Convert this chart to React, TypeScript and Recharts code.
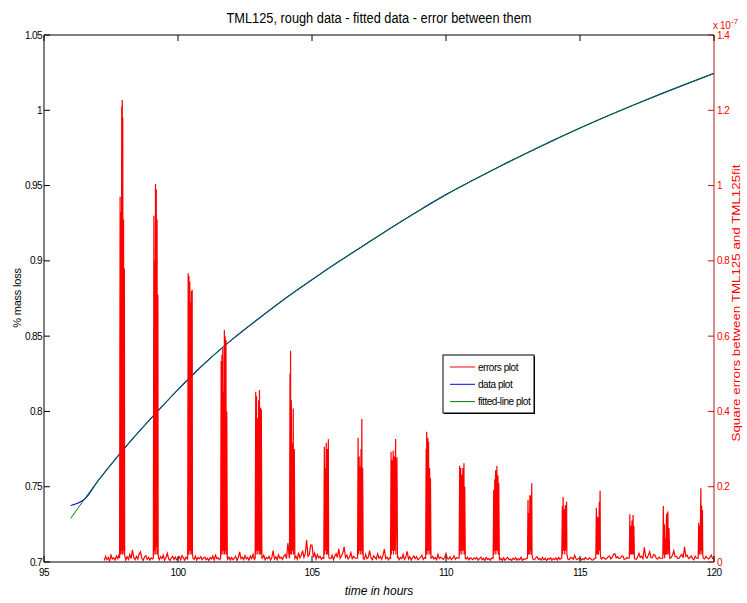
import { ComposedChart, Line, XAxis, YAxis, ReferenceLine } from 'recharts';

// time axis for the measured and fitted mass-loss curves (hours)
const fitHours = [96, 96.5, 97, 98, 99, 100, 101, 102, 103, 104, 105, 106, 107, 108, 109, 110, 111, 112, 113, 114, 115, 116, 117, 118, 119, 120];
const fitLoss = [0.729, 0.7415, 0.7535, 0.7755, 0.7955, 0.8145, 0.832, 0.8475, 0.8615, 0.875, 0.8875, 0.8995, 0.911, 0.9225, 0.9335, 0.944, 0.9535, 0.9627, 0.9715, 0.98, 0.9882, 0.996, 1.0035, 1.0107, 1.0177, 1.0245];

const dataHours = [96, 96.25, 96.5, 97, 98, 99, 100, 101, 102, 103, 104, 105, 106, 107, 108, 109, 110, 111, 112, 113, 114, 115, 116, 117, 118, 119, 120];
const dataLoss = [0.7375, 0.739, 0.7415, 0.7535, 0.7755, 0.7955, 0.8145, 0.832, 0.8475, 0.8615, 0.875, 0.8875, 0.8995, 0.911, 0.9225, 0.9335, 0.944, 0.9535, 0.9627, 0.9715, 0.98, 0.9882, 0.996, 1.0035, 1.0107, 1.0177, 1.0245];

// squared error floor, x 1e-7, sampled every 0.05 h from 97.25 h (one row per hour)
const floorStart = 97.25;
const floorStep = 0.05;
const errFloor = [
  0.004, 0.015, 0.006, 0.012, 0.003, 0.018, 0.008, 0.011, 0.005, 0.016, 0.009, 0.02, 0.01, 0.01, 0.01,
  0.01, 0.005, 0.014, 0.007, 0.02, 0.009, 0.032, 0.012, 0.006, 0.015, 0.008, 0.021, 0.027, 0.01, 0.004, 0.013, 0.017, 0.007, 0.012, 0.005,
  0.011, 0.008, 0.01, 0.01, 0.01, 0.01, 0.006, 0.014, 0.009, 0.018, 0.005, 0.012, 0.023, 0.008, 0.004, 0.011, 0.015, 0.007, 0.013, 0.006,
  0.009, 0.014, 0.006, 0.017, 0.011, 0.005, 0.013, 0.008, 0.01, 0.01, 0.01, 0.01, 0.007, 0.016, 0.005, 0.012, 0.009, 0.014, 0.006, 0.011,
  0.013, 0.006, 0.01, 0.004, 0.012, 0.008, 0.016, 0.005, 0.018, 0.009, 0.011, 0.006, 0.01, 0.01, 0.01, 0.01, 0.01, 0.007, 0.013, 0.005,
  0.012, 0.006, 0.01, 0.015, 0.004, 0.011, 0.027, 0.009, 0.013, 0.006, 0.017, 0.008, 0.012, 0.005, 0.016, 0.009, 0.02, 0.007, 0.01, 0.01,
  0.01, 0.01, 0.01, 0.01, 0.018, 0.006, 0.012, 0.009, 0.015, 0.005, 0.011, 0.03, 0.008, 0.014, 0.006, 0.019, 0.01, 0.013, 0.007, 0.016,
  0.02, 0.009, 0.05, 0.012, 0.01, 0.01, 0.01, 0.01, 0.015, 0.007, 0.025, 0.011, 0.018, 0.03, 0.012, 0.022, 0.058, 0.015, 0.02, 0.045,
  0.045, 0.013, 0.024, 0.008, 0.02, 0.011, 0.015, 0.007, 0.012, 0.01, 0.01, 0.01, 0.01, 0.01, 0.009, 0.018, 0.006, 0.016, 0.022, 0.012,
  0.035, 0.01, 0.016, 0.024, 0.04, 0.012, 0.018, 0.008, 0.013, 0.025, 0.009, 0.015, 0.011, 0.01, 0.01, 0.01, 0.01, 0.01, 0.014, 0.007,
  0.02, 0.009, 0.013, 0.03, 0.011, 0.006, 0.016, 0.012, 0.008, 0.022, 0.01, 0.015, 0.007, 0.018, 0.034, 0.009, 0.013, 0.006, 0.011, 0.008,
  0.01, 0.01, 0.01, 0.01, 0.015, 0.006, 0.012, 0.009, 0.02, 0.007, 0.013, 0.028, 0.008, 0.014, 0.005, 0.011, 0.016, 0.009, 0.014, 0.006,
  0.009, 0.013, 0.018, 0.007, 0.012, 0.005, 0.01, 0.01, 0.01, 0.01, 0.015, 0.008, 0.012, 0.006, 0.02, 0.009, 0.013, 0.01, 0.007, 0.012,
  0.023, 0.009, 0.008, 0.014, 0.006, 0.01, 0.016, 0.007, 0.012, 0.01, 0.01, 0.01, 0.01, 0.01, 0.01, 0.008, 0.013, 0.006, 0.011, 0.009,
  0.006, 0.011, 0.008, 0.012, 0.005, 0.009, 0.013, 0.006, 0.01, 0.004, 0.012, 0.007, 0.009, 0.005, 0.011, 0.01, 0.01, 0.01, 0.01, 0.01,
  0.006, 0.01, 0.004, 0.011, 0.005, 0.009, 0.012, 0.006, 0.008, 0.004, 0.01, 0.007, 0.011, 0.005, 0.009, 0.006, 0.013, 0.004, 0.008, 0.007,
  0.01, 0.01, 0.01, 0.01, 0.01, 0.008, 0.006, 0.011, 0.014, 0.007, 0.009, 0.005, 0.012, 0.006, 0.01, 0.004, 0.009, 0.007, 0.011, 0.005,
  0.009, 0.006, 0.011, 0.005, 0.012, 0.007, 0.01, 0.01, 0.01, 0.01, 0.01, 0.008, 0.006, 0.012, 0.011, 0.007, 0.018, 0.009, 0.006, 0.01,
  0.01, 0.005, 0.009, 0.006, 0.012, 0.008, 0.007, 0.011, 0.009, 0.005, 0.006, 0.01, 0.01, 0.01, 0.01, 0.01, 0.008, 0.012, 0.011, 0.007,
  0.009, 0.014, 0.016, 0.008, 0.012, 0.02, 0.022, 0.011, 0.014, 0.009, 0.01, 0.015, 0.016, 0.007, 0.008, 0.012, 0.01, 0.01, 0.01, 0.01,
  0.01, 0.008, 0.007, 0.013, 0.023, 0.012, 0.015, 0.009, 0.039, 0.014, 0.01, 0.018, 0.027, 0.011, 0.012, 0.02, 0.018, 0.009, 0.008, 0.013,
  0.01, 0.01, 0.01, 0.01, 0.01, 0.01, 0.01, 0.012, 0.012, 0.018, 0.03, 0.014, 0.015, 0.009, 0.01, 0.016, 0.02, 0.011, 0.04, 0.015,
  0.018, 0.009, 0.012, 0.016, 0.009, 0.006, 0.015, 0.01, 0.01, 0.01, 0.01, 0.01, 0.01, 0.008, 0.015, 0.011, 0.008, 0.012, 0.018, 0.009,
  0.01,
];

// error bursts, [hour, error x 1e-7]
const errSpikes: number[][][] = [
  [[97.82, 0.01], [97.84, 0.97], [97.85, 0.02], [97.87, 0.93], [97.88, 0.03], [97.9, 1.21], [97.91, 0.02], [97.92, 1.227], [97.93, 0.04], [97.94, 1.18], [97.95, 0.02], [97.97, 0.91], [97.98, 0.03], [98.0, 0.78], [98.01, 0.02], [98.03, 0.01]],
  [[99.08, 0.01], [99.1, 0.92], [99.11, 0.02], [99.13, 0.8], [99.14, 0.03], [99.16, 1.004], [99.17, 0.02], [99.19, 0.99], [99.2, 0.04], [99.22, 0.91], [99.23, 0.02], [99.25, 0.71], [99.26, 0.02], [99.28, 0.01]],
  [[100.36, 0.01], [100.38, 0.767], [100.39, 0.02], [100.41, 0.76], [100.42, 0.03], [100.44, 0.745], [100.45, 0.02], [100.47, 0.69], [100.48, 0.03], [100.5, 0.72], [100.51, 0.02], [100.53, 0.723], [100.54, 0.02], [100.56, 0.01]],
  [[101.59, 0.01], [101.61, 0.534], [101.62, 0.02], [101.64, 0.55], [101.65, 0.03], [101.67, 0.568], [101.68, 0.02], [101.7, 0.452], [101.71, 0.03], [101.73, 0.616], [101.74, 0.02], [101.76, 0.6], [101.77, 0.03], [101.79, 0.59], [101.8, 0.02], [101.82, 0.4], [101.84, 0.01]],
  [[102.88, 0.01], [102.9, 0.452], [102.91, 0.02], [102.93, 0.44], [102.94, 0.03], [102.97, 0.382], [102.98, 0.02], [103.01, 0.43], [103.02, 0.03], [103.04, 0.457], [103.05, 0.02], [103.08, 0.41], [103.09, 0.02], [103.11, 0.406], [103.13, 0.01]],
  [[104.16, 0.01], [104.18, 0.5], [104.19, 0.02], [104.2, 0.561], [104.21, 0.03], [104.23, 0.43], [104.24, 0.02], [104.27, 0.316], [104.28, 0.03], [104.3, 0.408], [104.31, 0.02], [104.34, 0.3], [104.36, 0.01]],
  [[105.44, 0.01], [105.46, 0.306], [105.47, 0.02], [105.49, 0.25], [105.5, 0.03], [105.53, 0.317], [105.54, 0.02], [105.57, 0.3], [105.58, 0.02], [105.61, 0.326], [105.62, 0.02], [105.64, 0.01]],
  [[106.7, 0.01], [106.72, 0.33], [106.73, 0.02], [106.76, 0.28], [106.77, 0.03], [106.79, 0.253], [106.8, 0.02], [106.83, 0.3], [106.84, 0.03], [106.86, 0.38], [106.87, 0.02], [106.89, 0.25], [106.91, 0.01]],
  [[107.93, 0.01], [107.95, 0.293], [107.96, 0.02], [107.99, 0.27], [108.0, 0.03], [108.03, 0.296], [108.04, 0.02], [108.07, 0.28], [108.08, 0.03], [108.12, 0.327], [108.13, 0.02], [108.17, 0.278], [108.19, 0.01]],
  [[109.24, 0.01], [109.26, 0.3], [109.27, 0.02], [109.28, 0.346], [109.29, 0.03], [109.32, 0.33], [109.33, 0.02], [109.35, 0.32], [109.36, 0.03], [109.39, 0.25], [109.4, 0.02], [109.42, 0.223], [109.44, 0.01]],
  [[110.49, 0.01], [110.51, 0.256], [110.52, 0.02], [110.55, 0.25], [110.56, 0.03], [110.58, 0.232], [110.59, 0.02], [110.63, 0.25], [110.64, 0.03], [110.67, 0.262], [110.68, 0.02], [110.7, 0.2], [110.72, 0.01]],
  [[111.76, 0.01], [111.78, 0.191], [111.79, 0.02], [111.82, 0.22], [111.83, 0.03], [111.85, 0.244], [111.86, 0.02], [111.9, 0.255], [111.91, 0.03], [111.94, 0.23], [111.95, 0.02], [111.97, 0.209], [111.99, 0.01]],
  [[113.04, 0.01], [113.06, 0.165], [113.07, 0.02], [113.1, 0.13], [113.11, 0.02], [113.13, 0.178], [113.14, 0.03], [113.16, 0.175], [113.17, 0.02], [113.2, 0.209], [113.21, 0.02], [113.23, 0.01]],
  [[114.32, 0.01], [114.34, 0.149], [114.35, 0.02], [114.37, 0.173], [114.38, 0.03], [114.42, 0.14], [114.43, 0.02], [114.45, 0.151], [114.46, 0.03], [114.5, 0.16], [114.51, 0.02], [114.54, 0.01]],
  [[115.59, 0.01], [115.61, 0.144], [115.62, 0.02], [115.65, 0.12], [115.66, 0.02], [115.68, 0.118], [115.69, 0.02], [115.72, 0.16], [115.73, 0.03], [115.75, 0.189], [115.76, 0.02], [115.78, 0.01]],
  [[116.84, 0.01], [116.86, 0.127], [116.87, 0.02], [116.9, 0.096], [116.91, 0.02], [116.94, 0.11], [116.95, 0.02], [116.98, 0.125], [116.99, 0.02], [117.01, 0.096], [117.03, 0.01]],
  [[118.09, 0.01], [118.11, 0.149], [118.12, 0.02], [118.15, 0.1], [118.16, 0.01], [118.18, 0.063], [118.2, 0.02], [118.23, 0.129], [118.24, 0.02], [118.28, 0.134], [118.29, 0.02], [118.32, 0.09], [118.35, 0.01]],
  [[119.41, 0.01], [119.43, 0.104], [119.44, 0.02], [119.47, 0.096], [119.48, 0.02], [119.51, 0.196], [119.52, 0.03], [119.54, 0.15], [119.55, 0.02], [119.57, 0.138], [119.58, 0.02], [119.6, 0.01]],
];

const xTicks = [95, 100, 105, 110, 115, 120];
const lossTicks = [0.7, 0.75, 0.8, 0.85, 0.9, 0.95, 1, 1.05];
const errTicks = [0, 0.2, 0.4, 0.6, 0.8, 1, 1.2, 1.4];
const legendNames = ['errors plot', 'data plot', 'fitted-line plot'];

const W = 747;
const H = 603;
const L = 44;
const R = 714;
const T = 35;
const B = 562;
const FONT = "'Liberation Sans', Arial, sans-serif";
const RED = '#ff0000';
const AXIS_RED = '#b01a1a';
const GREEN = '#008000';
const BLUE = '#0000ff';
const TICK = 6;

const fitRows = fitHours.map((t, i) => ({ t, v: fitLoss[i] }));
const dataRows = dataHours.map((t, i) => ({ t, v: dataLoss[i] }));

const inSpike = (t: number) => errSpikes.some((s) => t >= s[0][0] && t <= s[s.length - 1][0]);
const errRows = errFloor
  .map((v, i) => ({ t: +(floorStart + i * floorStep).toFixed(2), v }))
  .filter((p) => !inSpike(p.t))
  .concat(errSpikes.flat().map(([t, v]) => ({ t, v })))
  .sort((a, b) => a.t - b.t);

const fmt = (v: number) => String(+v.toFixed(2));

const tickText = { fontFamily: FONT, fontSize: 10, letterSpacing: '-0.6px' } as const;

function XTick({ x, payload }: any) {
  return (
    <g>
      <line x1={x} x2={x} y1={B} y2={B - TICK} stroke="#000" />
      <line x1={x} x2={x} y1={T} y2={T + TICK} stroke="#000" />
      <text x={x} y={B + 14} textAnchor="middle" fill="#000" style={tickText}>
        {payload.value}
      </text>
    </g>
  );
}

function LossTick({ y, payload }: any) {
  return (
    <g>
      <line x1={L} x2={L + TICK} y1={y} y2={y} stroke="#000" />
      <text x={L - 2} y={y + 3.5} textAnchor="end" fill="#000" style={tickText}>
        {fmt(payload.value)}
      </text>
    </g>
  );
}

function ErrTick({ y, payload }: any) {
  return (
    <g>
      <line x1={R - TICK} x2={R} y1={y} y2={y} stroke={AXIS_RED} />
      <text x={R + 3} y={y + 3.5} textAnchor="start" fill={RED} style={tickText}>
        {fmt(payload.value)}
      </text>
    </g>
  );
}

function Overlay() {
  const legendColors = [RED, BLUE, GREEN];
  return (
    <svg width={W} height={H} style={{ position: 'absolute', left: 0, top: 0, pointerEvents: 'none' }}>
      <text x={379} y={23} textAnchor="middle" fontFamily={FONT} fontSize={14} textLength={305} lengthAdjust="spacingAndGlyphs">
        TML125, rough data - fitted data - error between them
      </text>
      <text x={379} y={595} textAnchor="middle" fontFamily={FONT} fontSize={12} fontStyle="italic">
        time in hours
      </text>
      <text
        x={17}
        y={298}
        transform="rotate(-90 17 298)"
        textAnchor="middle"
        dominantBaseline="central"
        fontFamily={FONT}
        fontSize={11}
        letterSpacing="-0.2px"
      >
        % mass loss
      </text>
      <text
        x={736}
        y={303}
        transform="rotate(-90 736 303)"
        textAnchor="middle"
        dominantBaseline="central"
        fontFamily={FONT}
        fontSize={11}
        fill={RED}
        textLength={277}
        lengthAdjust="spacingAndGlyphs"
      >
        Square errors between TML125 and TML125fit
      </text>
      <text x={713} y={29} fontFamily={FONT} fontSize={10} fill={RED} letterSpacing="-0.4px">
        x 10
      </text>
      <text x={731} y={24} fontFamily={FONT} fontSize={8} fill={RED}>
        -7
      </text>

      <g>
        <rect x={444} y={356} width={91} height={58} fill="#000" />
        <rect x={443} y={355} width={91} height={58} fill="#fff" stroke="#000" />
        {legendNames.map((name, i) => {
          const y = 367 + i * 17.3;
          return (
            <g key={name}>
              <line x1={450} x2={475} y1={y} y2={y} stroke={legendColors[i]} strokeWidth={1} />
              <text x={478} y={y + 3.5} fontFamily={FONT} fontSize={10} letterSpacing="-0.45px">
                {name}
              </text>
            </g>
          );
        })}
      </g>
    </svg>
  );
}

export default function App() {
  return (
    <div style={{ position: 'absolute', left: 0, top: 0, width: W, height: H, background: '#fff' }}>
      <ComposedChart width={W} height={H} margin={{ top: T, right: 0, bottom: 0, left: 0 }}>
        <XAxis
          dataKey="t"
          type="number"
          domain={[95, 120]}
          ticks={xTicks}
          interval={0}
          allowDataOverflow
          height={H - B}
          axisLine={{ stroke: '#000' }}
          tickLine={false}
          tick={XTick}
        />
        <YAxis
          yAxisId="loss"
          type="number"
          domain={[0.7, 1.05]}
          ticks={lossTicks}
          interval={0}
          allowDataOverflow
          width={L}
          axisLine={{ stroke: '#000' }}
          tickLine={false}
          tick={LossTick}
        />
        <YAxis
          yAxisId="err"
          orientation="right"
          type="number"
          domain={[0, 1.4]}
          ticks={errTicks}
          interval={0}
          allowDataOverflow
          width={W - R}
          axisLine={{ stroke: AXIS_RED }}
          tickLine={false}
          tick={ErrTick}
        />
        <ReferenceLine yAxisId="loss" y={1.05} stroke="#000" />
        <Line
          yAxisId="loss"
          data={dataRows}
          dataKey="v"
          type="monotone"
          stroke={BLUE}
          strokeWidth={1.2}
          dot={false}
          activeDot={false}
          isAnimationActive={false}
        />
        <Line
          yAxisId="loss"
          data={fitRows}
          dataKey="v"
          type="monotone"
          stroke={GREEN}
          strokeWidth={1}
          dot={false}
          activeDot={false}
          isAnimationActive={false}
        />
        <Line
          yAxisId="err"
          data={errRows}
          dataKey="v"
          type="linear"
          stroke={RED}
          strokeWidth={1.2}
          dot={false}
          activeDot={false}
          isAnimationActive={false}
        />
      </ComposedChart>
      <Overlay />
    </div>
  );
}
